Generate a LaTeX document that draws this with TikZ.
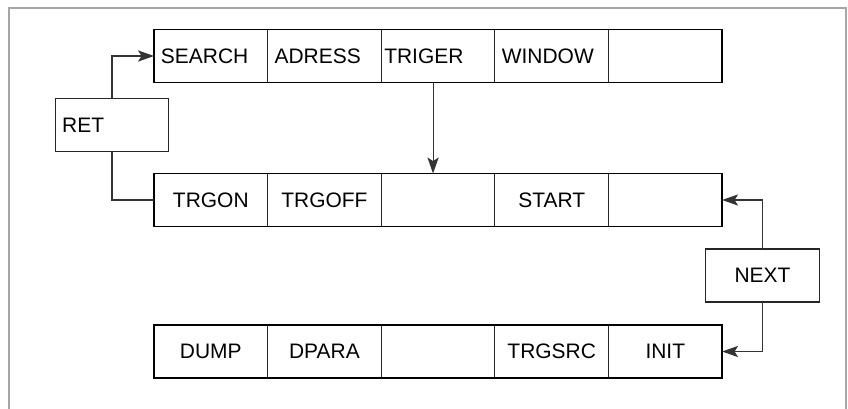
\documentclass[tikz,border=0pt]{standalone}
\usepackage{fontspec}
\setmainfont{Liberation Sans}
\usetikzlibrary{arrows.meta,positioning}

\begin{document}
\begin{tikzpicture}[
  x=0.025cm,
  y=-0.025cm,
  cell/.style={
    draw=black!85,
    line width=0.6pt,
    minimum width=2.84cm,
    minimum height=1.325cm,
    inner sep=0pt,
    outer sep=0pt,
    font=\fontsize{14.9}{17}\selectfont
  },
  cellleft/.style={cell, text width=2.49cm, align=left},
  rowframe/.style={draw=black, line width=1.1pt},
  key/.style={cell, line width=0.9pt},
  link/.style={line width=0.75pt, draw=black!80},
  flow/.style={link, ->},
  >={Stealth[length=4mm, width=2.8mm, inset=0.9mm]}
]
\useasboundingbox (0,0) rectangle (848,408);
\draw[gray!70, line width=1.3pt] (9,8) rectangle (846,414);

% first row
\node[cellleft] (search) at (210.8,56) {SEARCH};
\node[cellleft, right=0pt of search] (adress) {ADRESS};
\node[cellleft, right=0pt of adress, text width=2.69cm] (triger) {TRIGER};
\node[cellleft, right=0pt of triger] (window) {WINDOW};
\node[cell, right=0pt of window] (blankA) {};
\draw[rowframe] (search.north west) rectangle (blankA.south east);

% second row
\node[cell] (trgon) at (210.8,200) {TRGON};
\node[cell, right=0pt of trgon] (trgoff) {TRGOFF};
\node[cell, right=0pt of trgoff] (blankB) {};
\node[cell, right=0pt of blankB] (start) {START};
\node[cell, right=0pt of start] (blankC) {};
\draw[rowframe] (trgon.north west) rectangle (blankC.south east);

% third row
\node[cell] (dump) at (210.8,351.5) {DUMP};
\node[cell, right=0pt of dump] (dpara) {DPARA};
\node[cell, right=0pt of dpara] (blankD) {};
\node[cell, right=0pt of blankD] (trgsrc) {TRGSRC};
\node[cell, right=0pt of trgsrc] (init) {INIT};
\draw[rowframe] (dump.north west) rectangle (init.south east);

% soft keys
\node[key, text width=2.49cm, align=left] (ret) at (112,125) {RET};
\node[key] (next) at (762.5,275.5) {NEXT};

\draw[flow] (ret.north) |- (search.west);
\draw[link] (ret.south) |- (trgon.west);
\draw[flow] ([xshift=-0.125cm]triger.south) -- ([xshift=-0.125cm]triger.south |- blankB.north);
\draw[flow] (next.north) |- (blankC.east);
\draw[flow] (next.south) |- (init.east);
\end{tikzpicture}
\end{document}
